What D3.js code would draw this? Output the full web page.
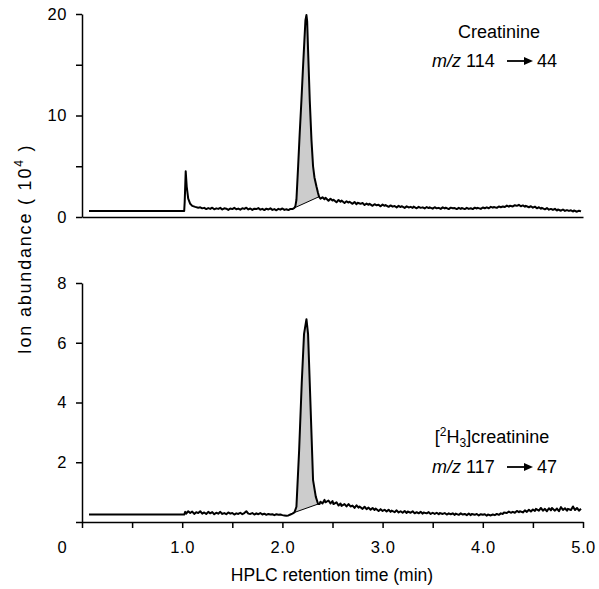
<!DOCTYPE html>
<html><head><meta charset="utf-8">
<script src="https://cdnjs.cloudflare.com/ajax/libs/d3/7.8.5/d3.min.js"></script>
<style>body{margin:0;background:#fff}svg{display:block}text{font-family:"Liberation Sans",Arial,Helvetica,sans-serif;fill:#000}</style>
</head><body><svg id="c" width="599" height="589"></svg>
<script>
// ---------- data ----------
const xTickValues = [0,0.5,1,1.5,2,2.5,3,3.5,4,4.5,5];
const xTickLabels = ["","","1.0","","2.0","","3.0","","4.0","","5.0"];
const topTickValues = [0,5,10,15,20];
const topTickLabels = ["0","","10","","20"];
const botTickValues = [0,2,4,6,8];
const botTickLabels = ["","2","4","6","8"];

// creatinine m/z 114 -> 44 : [time (min), abundance (10^4)]
const creatinine = [
[0.07,0.6],[1.02,0.6],[1.025,1.5],[1.035,4.5],[1.045,3.0],[1.06,1.8],[1.08,1.3],[1.1,1.1],[1.13,1.0],[1.16,0.92],
[1.18,0.95],[1.20,0.85],[1.22,0.9],[1.24,0.78],[1.26,0.88],[1.28,0.8],[1.30,0.92],[1.32,0.76],[1.34,0.85],[1.36,0.8],
[1.38,0.9],[1.40,0.74],[1.42,0.86],[1.44,0.82],[1.46,0.7],[1.48,0.84],[1.50,0.78],[1.52,0.9],[1.54,0.76],[1.56,0.83],
[1.58,0.72],[1.60,0.86],[1.62,0.8],[1.64,0.92],[1.66,0.75],[1.68,0.84],[1.70,0.7],[1.72,0.82],[1.74,0.78],[1.76,0.88],
[1.78,0.72],[1.80,0.8],[1.82,0.68],[1.84,0.82],[1.86,0.74],[1.88,0.86],[1.90,0.7],[1.92,0.78],[1.94,0.66],[1.96,0.8],
[1.98,0.72],[2.00,0.84],[2.02,0.7],[2.04,0.76],[2.06,0.68],[2.08,0.8],[2.10,0.78],
[2.12,0.9],[2.13,1.1],[2.14,1.7],[2.157,5],[2.173,8.3],[2.19,11.5],[2.206,14.8],[2.22,17.5],[2.23,19.4],[2.24,19.9],
[2.247,19.3],[2.256,16.5],[2.273,11.5],[2.29,7.6],[2.306,5.0],[2.32,3.9],[2.34,3.0],[2.355,2.4],[2.366,2.0],
[2.38,1.8],[2.40,1.95],[2.42,1.75],[2.43,1.9],[2.46,1.6],[2.48,1.8],[2.50,1.62],[2.51,1.7],[2.54,1.45],[2.56,1.68],
[2.58,1.5],[2.59,1.62],[2.62,1.38],[2.64,1.55],[2.66,1.42],[2.67,1.5],[2.70,1.3],[2.72,1.48],[2.74,1.25],[2.75,1.4],
[2.78,1.3],[2.80,1.38],[2.82,1.18],[2.84,1.32],[2.86,1.2],[2.87,1.3],[2.90,1.1],[2.92,1.26],[2.94,1.15],[2.96,1.2],
[2.98,1.05],[3.00,1.22],[3.02,1.1],[3.03,1.18],[3.06,1.0],[3.08,1.14],[3.10,1.02],[3.12,1.08],[3.14,0.95],[3.16,1.1],
[3.18,0.98],[3.19,1.06],[3.22,0.9],[3.24,1.05],[3.26,0.94],[3.28,1.0],[3.30,0.9],[3.31,1.02],[3.34,0.86],[3.36,1.0],
[3.38,0.9],[3.40,0.95],[3.42,0.84],[3.44,0.98],[3.46,0.88],[3.47,0.95],[3.50,0.82],[3.52,0.96],[3.54,0.86],[3.56,0.9],
[3.58,0.8],[3.60,0.95],[3.62,0.85],[3.63,0.92],[3.66,0.78],[3.68,0.92],[3.70,0.86],[3.72,0.88],[3.74,0.78],[3.76,0.9],
[3.78,0.8],[3.79,0.88],[3.82,0.78],[3.84,0.9],[3.86,0.8],[3.88,0.86],[3.90,0.78],[3.92,0.92],[3.94,0.84],[3.95,0.9],
[3.98,0.8],[4.00,0.94],[4.02,0.86],[4.04,0.95],[4.06,0.86],[4.08,1.0],[4.10,0.92],[4.11,0.98],[4.14,0.9],[4.16,1.04],
[4.18,0.96],[4.20,1.04],[4.22,0.98],[4.24,1.12],[4.26,1.02],[4.27,1.1],[4.30,1.04],[4.32,1.16],[4.34,1.1],[4.36,1.2],
[4.38,1.06],[4.40,1.14],[4.42,1.02],[4.43,1.1],[4.46,0.96],[4.48,1.06],[4.50,0.92],[4.52,1.02],[4.54,0.86],[4.56,0.96],
[4.58,0.82],[4.59,0.9],[4.62,0.76],[4.64,0.88],[4.66,0.72],[4.68,0.8],[4.70,0.7],[4.72,0.8],[4.74,0.64],[4.75,0.74],
[4.78,0.62],[4.80,0.74],[4.82,0.6],[4.84,0.68],[4.86,0.6],[4.88,0.66],[4.90,0.54],[4.91,0.64],[4.94,0.52],[4.96,0.62],[4.98,0.55]
];
const creatininePeak = [2.12, 2.366]; // integration limits (min)

// [2H3]creatinine m/z 117 -> 47
const d3creatinine = [
[0.07,0.25],[1.02,0.25],[1.03,0.34],[1.04,0.28],[1.06,0.36],[1.08,0.3],[1.10,0.35],[1.12,0.27],[1.14,0.33],[1.16,0.3],
[1.18,0.36],[1.20,0.28],[1.22,0.32],[1.24,0.27],[1.26,0.34],[1.28,0.29],[1.30,0.33],[1.32,0.26],[1.34,0.31],[1.36,0.28],
[1.38,0.34],[1.40,0.27],[1.42,0.3],[1.44,0.26],[1.46,0.32],[1.48,0.28],[1.50,0.3],[1.52,0.25],[1.54,0.29],[1.56,0.27],
[1.58,0.31],[1.60,0.26],[1.62,0.3],[1.64,0.36],[1.66,0.28],[1.68,0.27],[1.70,0.3],[1.72,0.25],[1.74,0.29],[1.76,0.26],
[1.78,0.3],[1.80,0.25],[1.82,0.28],[1.84,0.24],[1.86,0.27],[1.88,0.25],[1.90,0.26],[1.92,0.23],[1.94,0.26],[1.96,0.24],
[1.98,0.25],[2.00,0.23],[2.02,0.22],[2.04,0.21],[2.06,0.22],[2.08,0.25],[2.10,0.28],[2.12,0.32],
[2.14,0.51],[2.167,2.4],[2.193,4.65],[2.216,6.3],[2.24,6.79],[2.256,6.3],[2.273,4.65],[2.29,2.98],[2.306,1.4],[2.333,0.85],[2.356,0.6],
[2.37,0.6],[2.38,0.68],[2.40,0.62],[2.42,0.74],[2.43,0.66],[2.46,0.72],[2.48,0.62],[2.50,0.7],[2.51,0.6],[2.54,0.66],
[2.56,0.55],[2.58,0.62],[2.59,0.54],[2.62,0.6],[2.64,0.52],[2.66,0.6],[2.68,0.52],[2.70,0.55],[2.72,0.47],[2.74,0.56],
[2.76,0.48],[2.77,0.52],[2.80,0.44],[2.82,0.51],[2.84,0.43],[2.86,0.48],[2.88,0.41],[2.90,0.47],[2.92,0.4],[2.93,0.45],
[2.96,0.37],[2.98,0.43],[3.00,0.37],[3.02,0.41],[3.04,0.35],[3.06,0.41],[3.08,0.34],[3.09,0.38],[3.12,0.33],[3.14,0.39],
[3.16,0.32],[3.18,0.36],[3.20,0.31],[3.22,0.37],[3.24,0.3],[3.25,0.35],[3.28,0.31],[3.30,0.36],[3.32,0.29],[3.34,0.33],
[3.36,0.29],[3.38,0.34],[3.40,0.28],[3.41,0.32],[3.44,0.29],[3.46,0.33],[3.48,0.27],[3.50,0.31],[3.52,0.27],[3.54,0.31],
[3.56,0.26],[3.57,0.3],[3.60,0.27],[3.62,0.3],[3.64,0.25],[3.66,0.29],[3.68,0.26],[3.70,0.29],[3.72,0.24],[3.73,0.28],
[3.76,0.24],[3.78,0.29],[3.80,0.25],[3.82,0.27],[3.84,0.23],[3.86,0.28],[3.88,0.23],[3.89,0.27],[3.92,0.24],[3.94,0.27],
[3.96,0.22],[3.98,0.26],[4.00,0.24],[4.02,0.26],[4.04,0.21],[4.05,0.25],[4.08,0.22],[4.10,0.25],[4.12,0.23],[4.14,0.27],
[4.16,0.24],[4.18,0.29],[4.20,0.27],[4.21,0.32],[4.24,0.3],[4.26,0.35],[4.28,0.31],[4.30,0.34],[4.32,0.31],[4.34,0.37],
[4.36,0.33],[4.37,0.36],[4.40,0.32],[4.42,0.39],[4.44,0.34],[4.46,0.41],[4.48,0.35],[4.50,0.42],[4.52,0.37],[4.53,0.44],
[4.56,0.38],[4.58,0.47],[4.60,0.38],[4.62,0.44],[4.64,0.36],[4.66,0.46],[4.68,0.39],[4.69,0.47],[4.72,0.38],[4.74,0.45],
[4.76,0.36],[4.78,0.5],[4.80,0.4],[4.82,0.46],[4.84,0.38],[4.85,0.44],[4.88,0.4],[4.90,0.52],[4.92,0.4],[4.94,0.47],[4.96,0.38],[4.98,0.44]
];
const d3creatininePeak = [2.12, 2.356];

// ---------- drawing ----------
const svg = d3.select("#c");
const x = d3.scaleLinear().domain([0,5]).range([82,583]);
const yTop = d3.scaleLinear().domain([0,20]).range([217,14]);
const yBot = d3.scaleLinear().domain([0,8]).range([522,283]);
const TICKFONT = 16.5;

function panel(data, peak, y, tickVals, tickLabs) {
  const g = svg.append("g");
  const inPeak = data.filter(d => d[0] >= peak[0] && d[0] <= peak[1]);
  const poly = inPeak.map(d => [x(d[0]), y(d[1])]);
  g.append("path").attr("d", d3.line()(poly) + "Z")
    .attr("fill", "#cccccc").attr("stroke", "none");
  g.append("line")
    .attr("x1", poly[0][0]).attr("y1", poly[0][1])
    .attr("x2", poly[poly.length-1][0]).attr("y2", poly[poly.length-1][1])
    .attr("stroke", "#000").attr("stroke-width", 1);
  g.append("path").datum(data)
    .attr("d", d3.line().x(d => x(d[0])).y(d => y(d[1])))
    .attr("fill", "none").attr("stroke", "#000").attr("stroke-width", 2)
    .attr("stroke-linejoin", "round");
  const ya = g.append("g").attr("transform", `translate(${x(0)},0)`)
    .call(d3.axisLeft(y).tickValues(tickVals).tickFormat((d,i) => tickLabs[i])
      .tickSize(6).tickSizeOuter(0).tickPadding(9));
  ya.select(".domain").attr("stroke-width", 1.5);
  ya.selectAll(".tick line").attr("stroke-width", 1.5);
  ya.selectAll("text").attr("font-size", TICKFONT).attr("letter-spacing", 0.6)
    .attr("font-family", "Liberation Sans, Arial, sans-serif");
  return g;
}

panel(creatinine, creatininePeak, yTop, topTickValues, topTickLabels);
svg.append("g").attr("transform", `translate(0,${yTop(0)})`)
  .call(d3.axisBottom(x).tickValues([]).tickSizeOuter(0))
  .select(".domain").attr("stroke-width", 1.5);

panel(d3creatinine, d3creatininePeak, yBot, botTickValues, botTickLabels);
const xa = svg.append("g").attr("transform", `translate(0,${yBot(0)})`)
  .call(d3.axisBottom(x).tickValues(xTickValues).tickFormat((d,i) => xTickLabels[i])
    .tickSize(6).tickSizeOuter(0).tickPadding(13));
xa.select(".domain").attr("stroke-width", 1.5);
xa.selectAll(".tick line").attr("stroke-width", 1.5);
xa.selectAll("text").attr("font-size", TICKFONT).attr("letter-spacing", 0.6)
  .attr("font-family", "Liberation Sans, Arial, sans-serif");
svg.append("text").attr("x", 62).attr("y", 553).attr("text-anchor", "middle")
  .attr("font-size", TICKFONT).text("0");

// axis titles
svg.append("text").attr("x", 332).attr("y", 581).attr("text-anchor", "middle")
  .attr("font-size", 17.5).text("HPLC retention time (min)");
const yt = svg.append("text").attr("transform", "translate(31,249) rotate(-90)")
  .attr("text-anchor", "middle").attr("font-size", 18).attr("letter-spacing", 1.8);
yt.append("tspan").text("Ion abundance (  10");
yt.append("tspan").attr("font-size", 12).attr("dy", -8).text("4");
yt.append("tspan").attr("dy", 8).text(" )");

// annotations
function arrow(x1, x2, yy) {
  svg.append("line").attr("x1", x1).attr("x2", x2 - 6).attr("y1", yy).attr("y2", yy)
    .attr("stroke", "#000").attr("stroke-width", 1.8);
  svg.append("path").attr("d", `M${x2},${yy} L${x2-9},${yy-4} L${x2-9},${yy+4} Z`).attr("fill", "#000");
}
function mzLabel(yb, a, b) {
  const t = svg.append("text").attr("x", 432).attr("y", yb).attr("font-size", 18);
  t.append("tspan").attr("font-style", "italic").text("m/z");
  t.append("tspan").text(" " + a);
  arrow(507, 533, yb - 6);
  svg.append("text").attr("x", 537).attr("y", yb).attr("font-size", 18).text(b);
}
svg.append("text").attr("x", 499).attr("y", 38).attr("text-anchor", "middle").attr("font-size", 18).text("Creatinine");
mzLabel(67, "114", "44");

const lab = svg.append("text").attr("x", 492).attr("y", 443).attr("text-anchor", "middle").attr("font-size", 18);
lab.append("tspan").text("[");
lab.append("tspan").attr("font-size", 12).attr("dy", -7).text("2");
lab.append("tspan").attr("dy", 7).text("H");
lab.append("tspan").attr("font-size", 12).attr("dy", 4).text("3");
lab.append("tspan").attr("dy", -4).text("]creatinine");
mzLabel(473, "117", "47");
</script></body></html>
